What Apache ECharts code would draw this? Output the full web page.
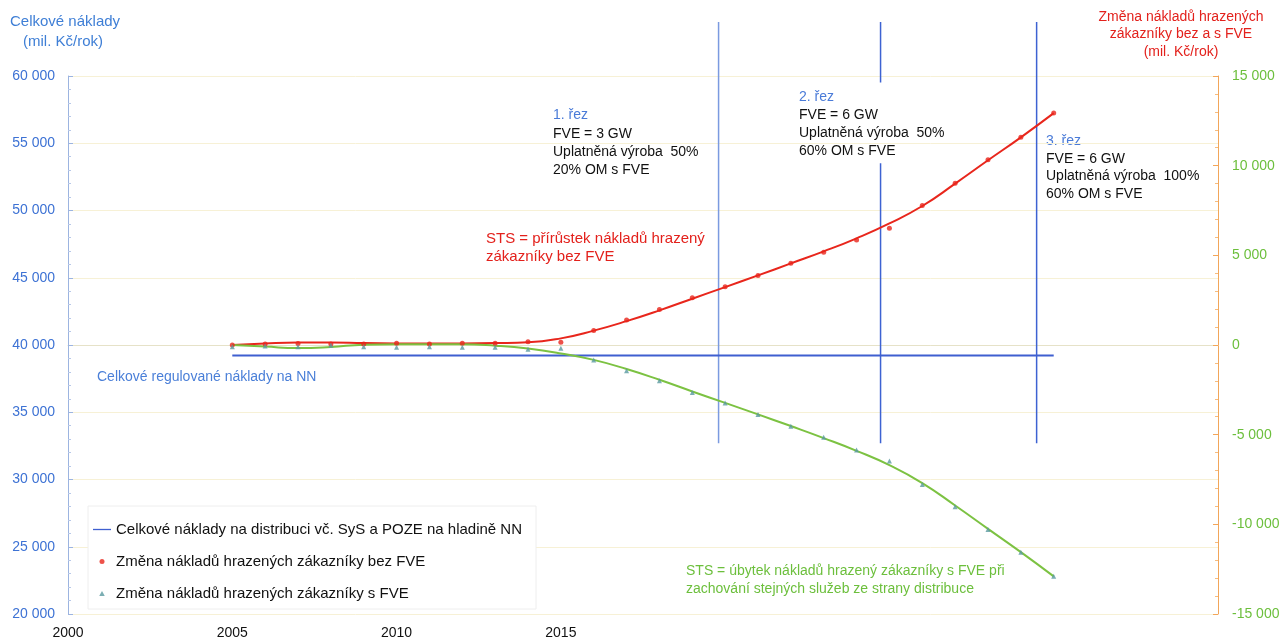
<!DOCTYPE html>
<html>
<head>
<meta charset="utf-8">
<script src="https://cdn.jsdelivr.net/npm/echarts@6/dist/echarts.min.js"></script>
<style>html,body{margin:0;padding:0;background:#fff;}#c{width:1284px;height:640px;}</style>
</head>
<body>
<div id="c"></div>
<script>
var years = [2005,2006,2007,2008,2009,2010,2011,2012,2013,2014,2015,2016,2017,2018,2019,2020,2021,2022,2023,2024,2025,2026,2027,2028,2029,2030];
var redPoints = [0,55,90,50,50,95,50,95,95,185,150,810,1400,1980,2630,3250,3875,4560,5170,5860,6510,7780,9020,10330,11590,12930];
var redTrend = [0,90,140,140,110,90,80,90,110,150,370,800,1330,1930,2580,3230,3880,4550,5220,5950,6780,7750,9000,10300,11580,12930];
var greenPoints = [-95,-60,-95,-20,-95,-130,-95,-130,-130,-240,-185,-830,-1430,-1990,-2650,-3230,-3880,-4530,-5140,-5860,-6470,-7780,-9020,-10290,-11560,-12900];
var greenTrend = [0,-90,-170,-110,20,40,40,40,-40,-200,-470,-830,-1340,-1940,-2590,-3230,-3870,-4520,-5190,-5900,-6700,-7700,-8950,-10250,-11550,-12900];
var totalYears = [2005,2030];
var totalValue = 39220;
var cutSegments = [[2019.8,64000,32700],[2024.73,64000,59500],[2024.73,53500,32700],[2029.48,64000,32700]];
var leftTicks = {min:20000,max:60000,interval:5000};
var rightTicks = {min:-15000,max:15000,interval:5000};
var xTicks = {min:2000,max:2035,interval:5,lastLabel:2015};
var names = ['Celkové náklady na distribuci vč. SyS a POZE na hladině NN','Změna nákladů hrazených zákazníky bez FVE','Změna nákladů hrazených zákazníky s FVE'];

function fmt(v){var s=Math.abs(v).toString().replace(/\B(?=(\d{3})+(?!\d))/g,' ');return (v<0?'-':'')+s;}
function pair(xs,ys){return xs.map(function(x,i){return [x,ys[i]];});}

var FONT = "'Liberation Sans', Arial, sans-serif";
var series = [
  {name:names[0],type:'line',xAxisIndex:0,yAxisIndex:0,data:totalYears.map(function(y){return [y,totalValue];}),symbol:'none',lineStyle:{color:'#3f5fd0',width:2},itemStyle:{color:'#3f5fd0'},z:3},
  {name:'redTrend',type:'line',xAxisIndex:0,yAxisIndex:1,data:pair(years,redTrend),smooth:0.5,symbol:'none',lineStyle:{color:'#e8261c',width:2},z:4},
  {name:'greenTrend',type:'line',xAxisIndex:0,yAxisIndex:1,data:pair(years,greenTrend),smooth:0.5,symbol:'none',lineStyle:{color:'#7cc242',width:2},z:4},
  {name:names[1],type:'scatter',xAxisIndex:0,yAxisIndex:1,data:pair(years,redPoints),symbol:'circle',symbolSize:5,itemStyle:{color:'#e8261c'},z:5},
  {name:names[2],type:'scatter',xAxisIndex:0,yAxisIndex:1,data:pair(years,greenPoints),symbol:'triangle',symbolSize:5,itemStyle:{color:'#5a9aa0'},z:5}
];
cutSegments.forEach(function(s,i){
  series.push({type:'line',xAxisIndex:1,yAxisIndex:2,data:[[s[0],s[1]],[s[0],s[2]]],symbol:'none',silent:true,
    lineStyle:{color:i===0?'#7b9ae0':'#3d62d2',width:1.5},z:2});
});

var chart = echarts.init(document.getElementById('c'));
chart.setOption({
  animation:false,
  backgroundColor:'#ffffff',
  textStyle:{fontFamily:FONT},
  grid:[{left:68,right:66,top:76,bottom:26},{left:68,right:66,top:22,bottom:26}],
  legend:{
    data:[
      {name:names[0],icon:'path://M0,0 L18,0 L18,1.3 L0,1.3 Z'},
      {name:names[1],icon:'circle'},
      {name:names[2],icon:'path://M5,0 L10,9 L0,9 Z'}
    ],
    orient:'vertical',left:88,top:506,
    padding:[16,14,8,5],itemGap:17,itemWidth:18,itemHeight:5,
    backgroundColor:'#ffffff',borderColor:'#eeeeee',borderWidth:1,
    textStyle:{fontFamily:FONT,fontSize:15,color:'#111'}
  },
  xAxis:[
    {type:'value',gridIndex:0,min:xTicks.min,max:xTicks.max,interval:xTicks.interval,
     axisLine:{lineStyle:{color:'#e6e2c8'}},axisTick:{show:false},splitLine:{show:false},
     axisLabel:{margin:12,fontSize:14,color:'#111',fontFamily:FONT,formatter:function(v){return v<=xTicks.lastLabel?String(v):'';}}},
    {type:'value',gridIndex:1,min:xTicks.min,max:xTicks.max,show:false}
  ],
  yAxis:[
    {type:'value',gridIndex:0,position:'left',min:leftTicks.min,max:leftTicks.max,interval:leftTicks.interval,
     axisLine:{show:true,lineStyle:{color:'#9cb4e0'}},
     axisTick:{show:true,inside:true,length:5,lineStyle:{color:'#9cb4e0'}},
     minorTick:{show:true,splitNumber:5,length:3,lineStyle:{color:'#b8c8e8'}},
     splitLine:{show:true,lineStyle:{color:'#f7f1d6',width:1}},
     axisLabel:{margin:13,fontSize:14,color:'#3d72d4',fontFamily:FONT,formatter:fmt}},
    {type:'value',gridIndex:0,position:'right',min:rightTicks.min,max:rightTicks.max,interval:rightTicks.interval,
     axisLine:{show:true,lineStyle:{color:'#f2a65a'}},
     axisTick:{show:true,inside:true,length:5,lineStyle:{color:'#f2a65a'}},
     minorTick:{show:true,splitNumber:5,length:3,lineStyle:{color:'#f5bc80'}},
     splitLine:{show:false},
     axisLabel:{margin:14,fontSize:14,color:'#6cbf3c',fontFamily:FONT,formatter:fmt}},
    {type:'value',gridIndex:1,min:20000,max:64000,show:false}
  ],
  graphic:[
    {type:'text',left:10,top:14,style:{text:'Celkové náklady',font:'15px '+FONT,fill:'#3f7fd6'}},
    {type:'text',left:23,top:34,style:{text:'(mil. Kč/rok)',font:'15px '+FONT,fill:'#3f7fd6'}},
    {type:'text',x:1181,y:8,style:{text:'Změna nákladů hrazených\nzákazníky bez a s FVE\n(mil. Kč/rok)',font:'14px '+FONT,fill:'#e3211c',textAlign:'center',textVerticalAlign:'top',lineHeight:17.5},z:10},
    {type:'text',left:553,top:108,style:{text:'1. řez',font:'14px '+FONT,fill:'#4a7bd8'}},
    {type:'text',left:553,top:125,style:{text:'FVE = 3 GW\nUplatněná výroba  50%\n20% OM s FVE',font:'14px '+FONT,fill:'#111',lineHeight:18}},
    {type:'text',left:799,top:90,style:{text:'2. řez',font:'14px '+FONT,fill:'#4a7bd8'}},
    {type:'text',left:799,top:106,style:{text:'FVE = 6 GW\nUplatněná výroba  50%\n60% OM s FVE',font:'14px '+FONT,fill:'#111',lineHeight:18}},
    {type:'text',left:1046,top:134,style:{text:'3. řez',font:'14px '+FONT,fill:'#4a7bd8'}},
    {type:'text',left:1046,top:150,style:{text:'FVE = 6 GW\nUplatněná výroba  100%\n60% OM s FVE',font:'14px '+FONT,fill:'#111',lineHeight:17.5}},
    {type:'text',left:486,top:230,style:{text:'STS = přírůstek nákladů hrazený\nzákazníky bez FVE',font:'15px '+FONT,fill:'#e3211c',lineHeight:18}},
    {type:'text',left:686,top:562,style:{text:'STS = úbytek nákladů hrazený zákazníky s FVE při\nzachování stejných služeb ze strany distribuce',font:'14px '+FONT,fill:'#6cbf3c',lineHeight:18}},
    {type:'text',left:97,top:370,style:{text:'Celkové regulované náklady na NN',font:'14px '+FONT,fill:'#4a7fd8'}}
  ],
  series:series
});
</script>
</body>
</html>
